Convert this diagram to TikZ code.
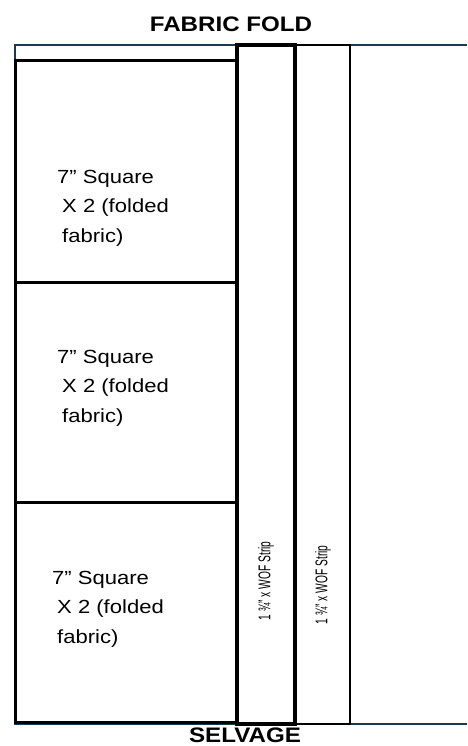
\documentclass[tikz,border=0pt]{standalone}
\usepackage{fontspec}
\setmainfont{Liberation Sans}
\newfontfamily\widefont[FakeStretch=1.16]{Liberation Sans}
\newfontfamily\narrowfont[FakeStretch=0.6]{Liberation Sans}
\newfontfamily\headfont[FakeStretch=1.15]{Liberation Sans}
\usetikzlibrary{positioning}
\definecolor{foldnavy}{HTML}{1C3A4C}

\begin{document}
\begin{tikzpicture}[x=1pt, y=-1pt,
  fabric/.style={draw=foldnavy, line width=2pt},
  cutbox/.style={draw=black, line width=3pt},
  stripbox/.style={draw=black, line width=2.5pt},
  cutlabel/.style={anchor=base west, inner sep=0pt, font=\widefont\fontsize{19}{19}\selectfont},
  striplabel/.style={rotate=90, inner sep=0pt, font=\narrowfont\fontsize{17}{17}\selectfont},
  edgelabel/.style={inner sep=0pt, font=\headfont\bfseries\fontsize{21}{21}\selectfont}
]
\useasboundingbox (0,0) rectangle (467,746);

% fabric outline
\draw[fabric] (467,45) -- (15,45) -- (15,724) -- (467,724);

% squares
\foreach \t/\b in {61/282, 282/502, 502/722} {
  \draw[cutbox] (15,\t) rectangle (237,\b);
}

% strips
\draw[stripbox, line width=3.5pt] (237,45) rectangle (295,724);
\draw[stripbox, line width=2pt] (295,45) rectangle (350,724);

% labels
\node[edgelabel] (fold) at (231,24) {FABRIC FOLD};
\node[edgelabel] (selvage) at (245,735) {SELVAGE};

\foreach \y/\x/\n in {183/57/a, 363/57/b, 584/52/c} {
  \node[cutlabel] (sq\n1) at (\x,\y) {7” Square};
  \node[cutlabel] (sq\n2) at (\x+5,\y+29.5) {X 2 (folded};
  \node[cutlabel] (sq\n3) at (\x+5,\y+59) {fabric)};
}

\node[striplabel] (strip1) at (266,581) {1 ¾” x WOF Strip};
\node[striplabel] (strip2) at (323,585) {1 ¾” x WOF Strip};

\end{tikzpicture}
\end{document}
